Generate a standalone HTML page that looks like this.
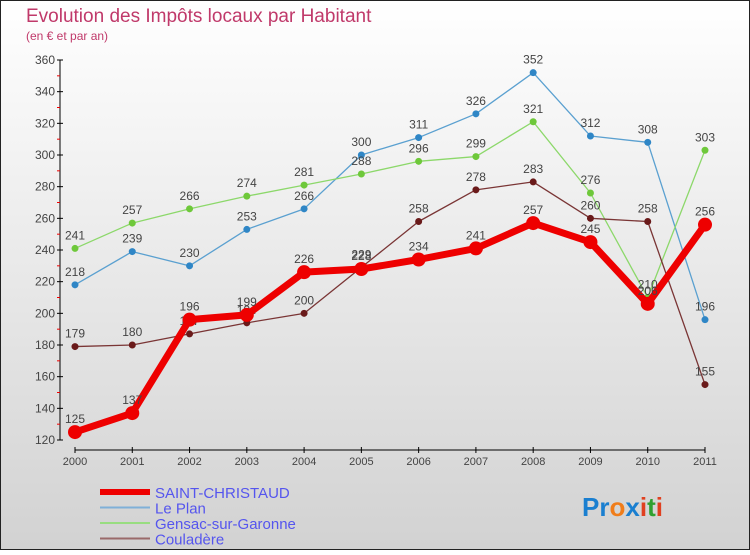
<!DOCTYPE html>
<html><head><meta charset="utf-8"><style>
body{margin:0}
#c{width:750px;height:550px;position:relative;font-family:"Liberation Sans",sans-serif}
</style></head><body>
<div id="c">
<svg id="s" width="750" height="550" xmlns="http://www.w3.org/2000/svg">
<defs><linearGradient id="bg" x1="0" y1="0" x2="0" y2="1"><stop offset="0" stop-color="#ffffff"/><stop offset="1" stop-color="#d2d2d2"/></linearGradient></defs>
<rect x="0.5" y="0.5" width="749" height="549" fill="url(#bg)" stroke="#222" stroke-width="1"/>
<text x="26" y="22" font-size="19" fill="#c0396a">Evolution des Impôts locaux par Habitant</text>
<text x="26" y="40" font-size="12" fill="#c0396a">(en € et par an)</text>
<g id="axes"></g><g id="series"></g><g id="legend"></g>
<text x="582" y="516" font-size="26" font-weight="bold"><tspan fill="#1a7fd0">Pr</tspan><tspan fill="#f07d1a">o</tspan><tspan fill="#1a7fd0">x</tspan><tspan fill="#e04020">i</tspan><tspan fill="#30a030">t</tspan><tspan fill="#e04020">i</tspan></text>
</svg></div>
<script>
const years=["2000","2001","2002","2003","2004","2005","2006","2007","2008","2009","2010","2011"];
const yTicks=[120,140,160,180,200,220,240,260,280,300,320,340,360];
const saint=[125,137,196,199,226,228,234,241,257,245,206,256];
const lePlan=[218,239,230,253,266,300,311,326,352,312,308,196];
const gensac=[241,257,266,274,281,288,296,299,321,276,210,303];
const coul=[179,180,187,194,200,229,258,278,283,260,258,155];
const NS="http://www.w3.org/2000/svg";
const X=i=>75+i*(630/(years.length-1));
const Y=v=>440-(v-120)*(380/240);
function el(t,a,p){const e=document.createElementNS(NS,t);for(const k in a)e.setAttribute(k,a[k]);p.appendChild(e);return e;}
const ax=document.getElementById('axes');
const yl=el('line',{x1:60,y1:60,x2:60,y2:440,stroke:'#000'},ax);


yTicks.forEach((v,i)=>{
 el('line',{x1:57,x2:63,y1:Y(v),y2:Y(v),stroke:'#000'},ax);
 const t=el('text',{x:55,y:Y(v)+4,'text-anchor':'end','font-size':12,fill:'#444'},ax);t.textContent=v;
 
 
 if(i<yTicks.length-1)el('line',{x1:57,x2:60,y1:Y(v+10),y2:Y(v+10),stroke:'#e00'},ax);
});
const xl=el('line',{x1:75,y1:450,x2:705,y2:450,stroke:'#000'},ax);


years.forEach((y,i)=>{
 el('line',{x1:X(i),x2:X(i),y1:447,y2:453,stroke:'#000'},ax);
 const t=el('text',{x:X(i),y:465,'text-anchor':'middle','font-size':11,fill:'#444'},ax);t.textContent=y;
 
 
});
const sg=document.getElementById('series');
function draw(name,data,color,w,r,dot){
 const g=el('g',{},sg);
 
 
 el('polyline',{points:data.map((v,i)=>X(i)+','+Y(v)).join(' '),fill:'none',stroke:color,'stroke-width':w,'stroke-linejoin':'round'},g);
 data.forEach((v,i)=>{
  const c=el('circle',{cx:X(i),cy:Y(v),r:r,fill:dot},g);
  
  
  const t=el('text',{x:X(i),y:Y(v)-9,'text-anchor':'middle','font-size':12,fill:'#444'},g);t.textContent=v;
  
  
 });
}
draw('le-plan-series',lePlan,'#5aa0d0',1.3,3.5,'#2f86c6');
draw('gensac-series',gensac,'#8cd86a',1.3,3.5,'#6ec83a');
draw('couladere-series',coul,'#7a3535',1.3,3.5,'#6a1a1a');
draw('saint-christaud-series',saint,'#ee0000',7,7,'#ee0000');
const lg=document.getElementById('legend');
const items=[['SAINT-CHRISTAUD','#ee0000',6],['Le Plan','#7fb0d8',2],['Gensac-sur-Garonne','#98dd80',2],['Couladère','#9a6a6a',2]];
items.forEach((it,i)=>{
 const y=492+i*15.5;
 const g=el('g',{},lg);
 
 
 el('line',{x1:100,x2:150,y1:y,y2:y,stroke:it[1],'stroke-width':it[2]},g);
 const t=el('text',{x:155,y:y+6,'font-size':15,fill:'#5555ee'},g);t.textContent=it[0];
});
</script>
</body></html>
